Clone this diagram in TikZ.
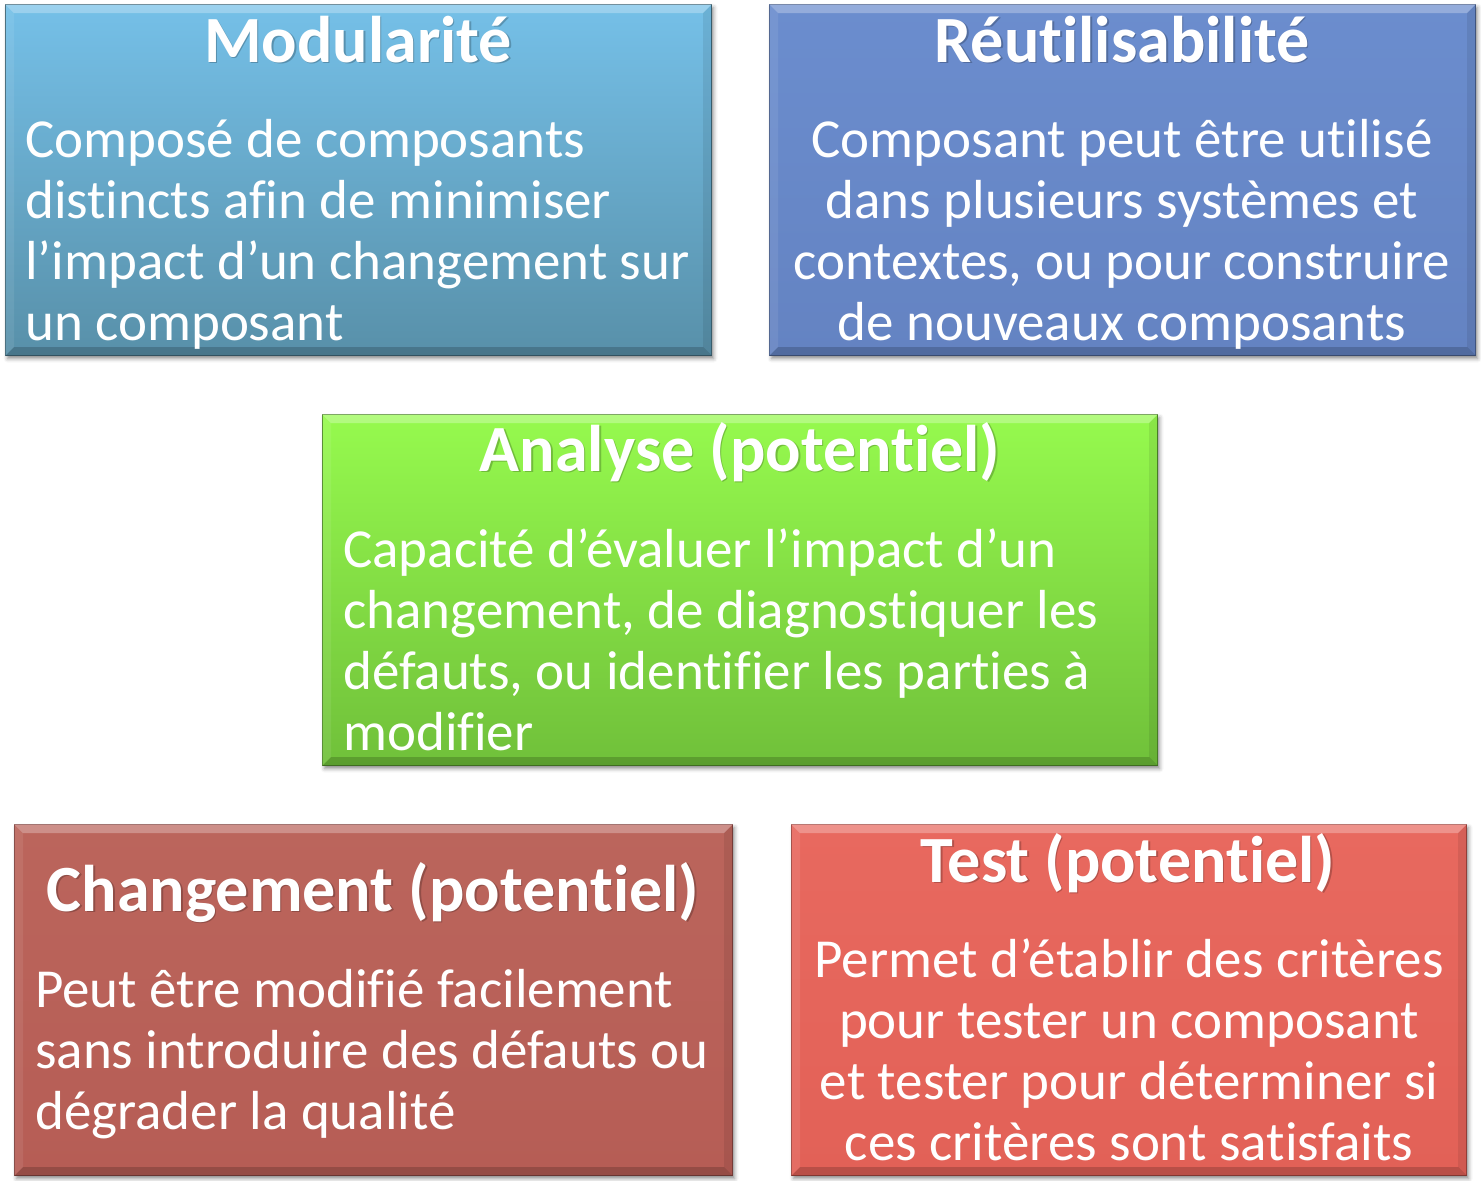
\documentclass[tikz,border=0pt]{standalone}
\usepackage{fontspec}
\setmainfont{Carlito}[Ligatures={NoCommon,NoContextual,NoRequired}]
\usetikzlibrary{shadows.blur}
\definecolor{modT}{HTML}{75C0E8}
\definecolor{modB}{HTML}{5890A9}
\definecolor{reuT}{HTML}{6B8DCE}
\definecolor{reuB}{HTML}{6483C2}
\definecolor{anaT}{HTML}{96FA4E}
\definecolor{anaB}{HTML}{70C03A}
\definecolor{chgT}{HTML}{BB655C}
\definecolor{chgB}{HTML}{B65D55}
\definecolor{tstT}{HTML}{E8695F}
\definecolor{tstB}{HTML}{E26157}
\tikzset{
  card/.style={draw=#1, line width=1.2pt, anchor=north west, inner sep=0pt,
    blur shadow={shadow xshift=2pt, shadow yshift=-3pt, shadow blur radius=4pt, shadow opacity=45}},
  ttl/.style={text=white, font=\fontsize{66}{78}\selectfont\bfseries, anchor=base, inner sep=0pt},
  ttlsh/.style={text=black, opacity=0.22, font=\fontsize{66}{78}\selectfont\bfseries, anchor=base, inner sep=0pt},
  body/.style={text=white, font=\fontsize{55}{61}\selectfont, inner sep=0pt},
  bevlight/.style={fill=white, opacity=0.28},
  bevdark/.style={fill=black, opacity=0.18},
}
\newcommand{\bevel}[1]{%
  \fill[bevlight] (#1.north west) -- (#1.north east) -- ([xshift=-9pt,yshift=-9pt]#1.north east) -- ([xshift=9pt,yshift=-9pt]#1.north west) -- cycle;
  \fill[bevdark] (#1.south west) -- (#1.south east) -- ([xshift=-9pt,yshift=9pt]#1.south east) -- ([xshift=9pt,yshift=9pt]#1.south west) -- cycle;
  \fill[black, opacity=0.08] (#1.north east) -- (#1.south east) -- ([xshift=-9pt,yshift=9pt]#1.south east) -- ([xshift=-9pt,yshift=-9pt]#1.north east) -- cycle;
  \fill[white, opacity=0.08] (#1.north west) -- (#1.south west) -- ([xshift=9pt,yshift=9pt]#1.south west) -- ([xshift=9pt,yshift=-9pt]#1.north west) -- cycle;
}
\begin{document}
\begin{tikzpicture}[x=1pt, y=-1pt]
\useasboundingbox (0,0) rectangle (1481,1181);
% boxes
\node[card=modB!70!black, top color=modT, bottom color=modB, minimum width=706pt, minimum height=351pt] (mod) at (5,4) {};
\node[card=reuB!70!black, top color=reuT, bottom color=reuB, minimum width=706pt, minimum height=351pt] (reu) at (769,4) {};
\node[card=anaB!70!black, top color=anaT, bottom color=anaB, minimum width=835pt, minimum height=351pt] (ana) at (322,414) {};
\node[card=chgB!70!black, top color=chgT, bottom color=chgB, minimum width=718pt, minimum height=351pt] (chg) at (14,824) {};
\node[card=tstB!70!black, top color=tstT, bottom color=tstB, minimum width=675pt, minimum height=351pt] (tst) at (791,824) {};
\bevel{mod}\bevel{reu}\bevel{ana}\bevel{chg}\bevel{tst}
% titles
\node[ttlsh] (modTs) at (359.5,63.5) {Modularité};
\node[ttl] (modTt) at (358,62) {Modularité};
\node[ttlsh] (reuTs) at (1123.5,63.5) {Réutilisabilité};
\node[ttl] (reuTt) at (1122,62) {Réutilisabilité};
\node[ttlsh] (anaTs) at (741.5,472.5) {Analyse (potentiel)};
\node[ttl] (anaTt) at (740,471) {Analyse (potentiel)};
\node[ttlsh] (chgTs) at (374.5,912.5) {Changement (potentiel)};
\node[ttl] (chgTt) at (373,911) {Changement (potentiel)};
\node[ttlsh] (tstTs) at (1129.5,883.5) {Test (potentiel)};
\node[ttl] (tstTt) at (1128,882) {Test (potentiel)};
% bodies
\node[body, anchor=base west] (modX) at (25,157) {\parbox[t]{700pt}{\raggedright Composé de composants\\distincts afin de minimiser\\l’impact d’un changement sur\\un composant}};
\node[body, anchor=base] (reuX) at (1122,157) {\parbox[t]{700pt}{\centering Composant peut être utilisé\\dans plusieurs systèmes et\\contextes, ou pour construire\\de nouveaux composants}};
\node[body, anchor=base west] (anaX) at (343,567) {\parbox[t]{800pt}{\raggedright Capacité d’évaluer l’impact d’un\\changement, de diagnostiquer les\\défauts, ou identifier les parties à\\modifier}};
\node[body, anchor=base west] (chgX) at (35,1007) {\parbox[t]{700pt}{\raggedright Peut être modifié facilement\\sans introduire des défauts ou\\dégrader la qualité}};
\node[body, anchor=base] (tstX) at (1129,977) {\parbox[t]{700pt}{\centering Permet d’établir des critères\\pour tester un composant\\et tester pour déterminer si\\ces critères sont satisfaits}};
\end{tikzpicture}
\end{document}
